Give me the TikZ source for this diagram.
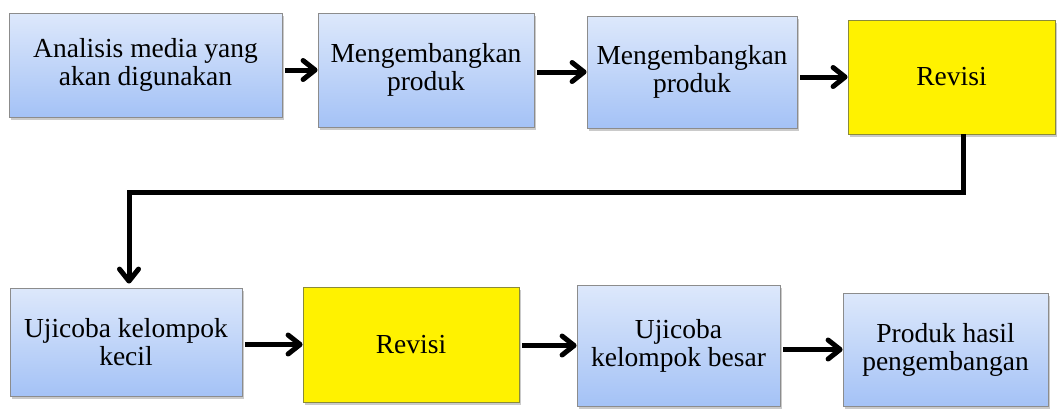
\documentclass[tikz,border=0pt]{standalone}
\usepackage{fontspec}
\setmainfont{LiberationSerif}[Extension=.ttf, UprightFont=*-Regular]
\usepackage{tikz}
\usetikzlibrary{arrows.meta,shadows}

\definecolor{boxtop}{HTML}{DDE8FB}
\definecolor{boxbottom}{HTML}{A4C2F6}
\definecolor{boxline}{HTML}{8C8C8C}
\definecolor{revline}{HTML}{8A8A3A}

\begin{document}
\begin{tikzpicture}[x=1pt,
            y=-1pt,
            >={Straight Barb[length=12pt,width=19pt,round]},
            font=\fontsize{27.5}{28}\selectfont,
            box/.style={draw=boxline, line width=0.8pt, align=center,
                        inner sep=0pt,
                        drop shadow={shadow xshift=2pt, shadow yshift=-3pt,
                                     opacity=0.35, fill=black!60}},
            bluebox/.style={box, top color=boxtop, bottom color=boxbottom},
            revbox/.style={box, draw=revline, fill=yellow},
            link/.style={->, line width=5pt, shorten <=3pt}]

        \useasboundingbox (0,0) rectangle (1059,408);

        % top row
        \node[bluebox, minimum width=273pt, minimum height=104pt] (b1) at (145.5,65)  {Analisis media yang\\akan digunakan};
        \node[bluebox, minimum width=216pt, minimum height=114pt] (b2) at (426,70)    {Mengembangkan\\produk};
        \node[bluebox, minimum width=210pt, minimum height=112pt] (b3) at (692,72)    {Mengembangkan\\produk};
        \node[revbox,  minimum width=207pt, minimum height=114pt] (b4) at (951.5,77)  {Revisi};

        % bottom row
        \node[bluebox, minimum width=232pt, minimum height=108pt] (b5) at (126,342)   {Ujicoba kelompok\\kecil};
        \node[revbox,  minimum width=216pt, minimum height=115pt] (b6) at (411,344.5) {Revisi};
        \node[bluebox, minimum width=203pt, minimum height=121pt] (b7) at (678.5,345.5) {Ujicoba\\kelompok besar};
        \node[bluebox, minimum width=205pt, minimum height=113pt] (b8) at (945.5,349.5) {Produk hasil\\pengembangan};

        \draw[link] (b1.east |- b2) -- (b2.west);
        \draw[link] (b2.east |- b3) -- (b3.west);
        \draw[link] (b3.east |- b4) -- (b4.west);

        \coordinate (bend) at (963,192);
        \draw[link, shorten <=0pt, shorten >=4pt] ([xshift=11.5pt]b4.south) -- (bend) -| ([xshift=3pt]b5.north);

        \draw[link] (b5.east |- b6) -- (b6.west);
        \draw[link] (b6.east |- b7) -- (b7.west);
        \draw[link] (b7.east |- b8) -- (b8.west);

    \end{tikzpicture}
\end{document}
